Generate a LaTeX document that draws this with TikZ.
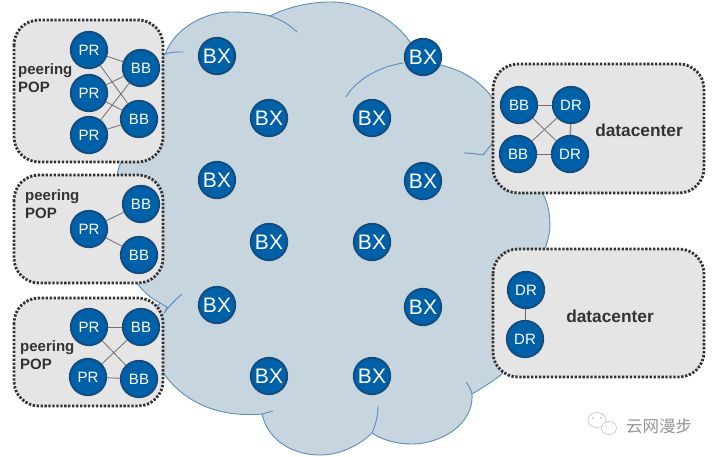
\documentclass[tikz,border=0pt]{standalone}
\usepackage{fontspec}
\setmainfont{Liberation Sans}
\newfontfamily\cjk{Noto Sans CJK SC}
\definecolor{cloudfill}{HTML}{C7D5DF}
\definecolor{cloudline}{HTML}{5B8DBF}
\definecolor{boxfill}{HTML}{E5E5E5}
\definecolor{boxline}{HTML}{333333}
\definecolor{routerfill}{HTML}{0060A8}
\definecolor{routerline}{HTML}{154B7C}
\definecolor{edgeline}{HTML}{707070}
\definecolor{labeltext}{HTML}{333333}
\tikzset{
  cloudstroke/.style={draw=cloudline,line width=0.9pt},
  popbox/.style={draw=boxline,fill=boxfill,line width=2.8pt,dash pattern=on 2.3pt off 1.65pt,rounded corners=25pt},
  router/.style={circle,draw=routerline,fill=routerfill,line width=1.8pt,minimum size=36.5pt,inner sep=0pt,text=white,font=\fontsize{15}{15}\selectfont},
  bxrouter/.style={router,font=\fontsize{21}{21}\selectfont},
  link/.style={draw=edgeline,line width=0.8pt},
  poplabel/.style={anchor=west,inner sep=0pt,text=labeltext,align=left,font=\fontsize{15}{18}\selectfont\bfseries},
  dclabel/.style={inner sep=0pt,text=labeltext,font=\fontsize{17.3}{18}\selectfont\bfseries},
  wmark/.style={draw=black!28,fill=white,line width=0.5pt},
}
\begin{document}
\begin{tikzpicture}[x=1pt,y=-1pt]
\useasboundingbox (0,0) rectangle (715,456);
% cloud
\path[fill=cloudfill,cloudstroke]
 (165,54) .. controls (175,28) and (205,12) .. (230,12)
 .. controls (245,12) and (260,13) .. (270,16)
 .. controls (288,7) and (310,2) .. (330,2)
 .. controls (365,2) and (395,20) .. (410,42)
 -- (423,57) -- (440,65)
 .. controls (465,70) and (485,85) .. (495,102)
 -- (530,150) -- (542,192)
 .. controls (552,210) and (552,232) .. (545,248)
 -- (530,320) -- (502,374)
 .. controls (492,382) and (482,388) .. (472,394)
 .. controls (474,425) and (440,444) .. (412,444)
 .. controls (397,444) and (382,440) .. (372,433)
 .. controls (360,445) and (340,455) .. (320,455)
 .. controls (290,455) and (267,438) .. (262,414)
 .. controls (215,418) and (180,400) .. (160,368)
 -- (130,340) -- (160,303)
 .. controls (150,298) and (143,291) .. (135,281)
 -- (100,220) -- (117,175)
 .. controls (118,170) and (119,166) .. (122,160)
 -- (130,100) -- cycle;
\draw[cloudstroke] (165,54) .. controls (171,52) and (177,52) .. (183,52);
\draw[cloudstroke] (270,16) .. controls (280,19) and (290,25) .. (297,32);
\draw[cloudstroke] (403,63) .. controls (378,67) and (356,80) .. (346,97);
\draw[cloudstroke] (464,153) .. controls (471,153) and (477,154) .. (483,155) -- (495,140);
\draw[cloudstroke] (472,394) .. controls (471,390) and (469,386) .. (466,382);
\draw[cloudstroke] (372,433) .. controls (376,424) and (378,415) .. (378,406);
\draw[cloudstroke] (262,414) -- (273,411);
\draw[cloudstroke] (160,303) -- (167,307) -- (165,312) .. controls (170,305) and (176,299) .. (182,294);
% boxes
\path[popbox] (14,20) rectangle (163,162);
\path[popbox] (14,175) rectangle (163,283);
\path[popbox] (14,298) rectangle (163,406);
\path[popbox] (493,64) rectangle (704,193);
\path[popbox] (493,249) rectangle (704,377);
% BX routers
\node[bxrouter] (bx1) at (217,56) {BX};
\node[bxrouter] (bx2) at (269,118) {BX};
\node[bxrouter] (bx3) at (372,118) {BX};
\node[bxrouter] (bx4) at (423,57) {BX};
\node[bxrouter] (bx5) at (217,180) {BX};
\node[bxrouter] (bx6) at (269,242) {BX};
\node[bxrouter] (bx7) at (372,242) {BX};
\node[bxrouter] (bx8) at (423,181) {BX};
\node[bxrouter] (bx9) at (217,305) {BX};
\node[bxrouter] (bx10) at (269,376) {BX};
\node[bxrouter] (bx11) at (372,376) {BX};
\node[bxrouter] (bx12) at (423,307) {BX};
% pop 1
\node[router] (ap1) at (89,50) {PR};
\node[router] (ap2) at (89,93) {PR};
\node[router] (ap3) at (89,135) {PR};
\node[router] (ab1) at (141,68) {BB};
\node[router] (ab2) at (139,119) {BB};
\foreach \p in {ap1,ap2,ap3}\foreach \q in {ab1,ab2}{\draw[link] (\p) -- (\q);}
\node[poplabel] (alabel) at (18,78) {peering\\POP};
% pop 2
\node[router] (bp1) at (89,229) {PR};
\node[router] (bb1) at (141,204) {BB};
\node[router] (bb2) at (139,255) {BB};
\draw[link] (bp1) -- (bb1);
\draw[link] (bp1) -- (bb2);
\node[poplabel] (blabel) at (25,204) {peering\\POP};
% pop 3
\node[router] (cp1) at (89,327) {PR};
\node[router] (cp2) at (88,377) {PR};
\node[router] (cb1) at (141,327) {BB};
\node[router] (cb2) at (139,379) {BB};
\draw[link] (cp1) -- (cb1);
\draw[link] (cp2) -- (cb2);
\draw[link] (cp1) -- (cb2);
\draw[link] (cp2) -- (cb1);
\node[poplabel] (clabel) at (20,355) {peering\\POP};
% datacenter 1
\node[router] (db1) at (519,105) {BB};
\node[router] (dd1) at (571,105) {DR};
\node[router] (db2) at (518,154) {BB};
\node[router] (dd2) at (570,154) {DR};
\draw[link] (db1) -- (dd1);
\draw[link] (db2) -- (dd2);
\draw[link] (db1) -- (dd2);
\draw[link] (db2) -- (dd1);
\draw[link,draw=black!45,line width=1.5pt] (dd1) -- (dd2);
\node[dclabel] (dlabel) at (639,130) {datacenter};
% datacenter 2
\node[router] (ed1) at (526,290) {DR};
\node[router] (ed2) at (525,339) {DR};
\draw[link,draw=black!60] (ed1) -- (ed2);
\node[dclabel] (elabel) at (610,316) {datacenter};
% watermark
\draw[wmark] (597,420) ellipse (9pt and 7.5pt);
\draw[wmark] (609,428) ellipse (7.5pt and 6.5pt);
\fill[black!35] (593,418) circle (0.8pt) (601,418) circle (0.8pt) (606,426) circle (0.7pt) (612,426) circle (0.7pt);
\node[inner sep=0pt,text=black!42,font=\cjk\fontsize{16.5}{17}\selectfont] (wm) at (659,426) {云网漫步};
\end{tikzpicture}
\end{document}
